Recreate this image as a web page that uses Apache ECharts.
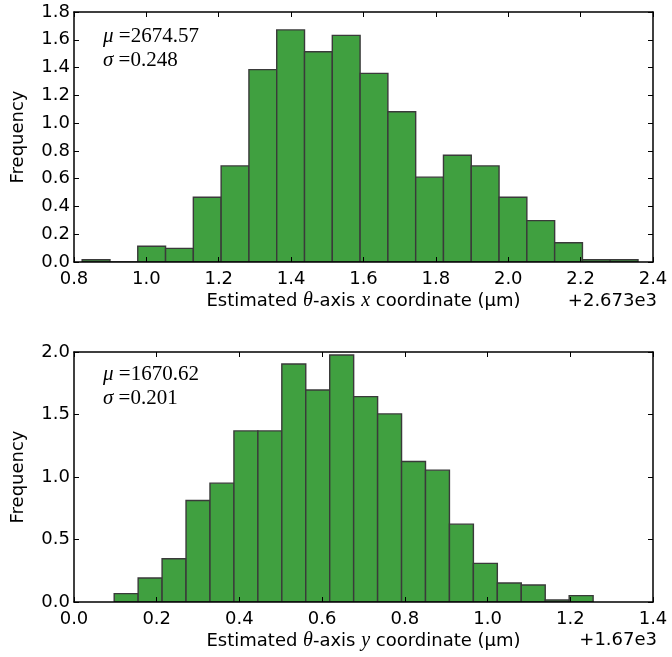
<!DOCTYPE html>
<html>
<head>
<meta charset="utf-8">
<script src="https://cdn.jsdelivr.net/npm/echarts@6/dist/echarts.min.js"></script>
<style>
html,body{margin:0;padding:0;background:#fff;}
#chart{width:672px;height:657px;}
</style>
</head>
<body>
<div id="chart"></div>
<script>
// ---- Data ----
// Top histogram: theta-axis x coordinate (offset +2673), 20 bins
const xBinStart = 0.8226;
const xBinWidth = 0.0768;
const xDensity = [0.016, 0.0, 0.113, 0.098, 0.466, 0.692, 1.385, 1.671, 1.514, 1.632,
                  1.358, 1.082, 0.611, 0.769, 0.692, 0.466, 0.298, 0.139, 0.016, 0.016];
const xTicks = [0.8, 1.0, 1.2, 1.4, 1.6, 1.8, 2.0, 2.2, 2.4];
const xFreqTicks = [0.0, 0.2, 0.4, 0.6, 0.8, 1.0, 1.2, 1.4, 1.6, 1.8];
const xStats = {mu: '2674.57', sigma: '0.248', offset: '+2.673e3'};

// Bottom histogram: theta-axis y coordinate (offset +1670), 20 bins
const yBinStart = 0.0972;
const yBinWidth = 0.0579;
const yDensity = [0.067, 0.192, 0.346, 0.812, 0.951, 1.369, 1.369, 1.904, 1.696, 1.976,
                  1.643, 1.505, 1.124, 1.055, 0.623, 0.309, 0.152, 0.136, 0.016, 0.051];
const yTicks = [0.0, 0.2, 0.4, 0.6, 0.8, 1.0, 1.2, 1.4];
const yFreqTicks = [0.0, 0.5, 1.0, 1.5, 2.0];
const yStats = {mu: '1670.62', sigma: '0.201', offset: '+1.67e3'};

// ---- Build ----
function bins(start, width, dens) {
  return dens.map((d, i) => [start + i * width, start + (i + 1) * width, d]);
}
const sans = 'DejaVu Sans';
const serif = 'Liberation Serif';
const FS = 18;

function renderBar(params, api) {
  const p0 = api.coord([api.value(0), api.value(2)]);
  const p1 = api.coord([api.value(1), 0]);
  return {
    type: 'rect',
    shape: {x: p0[0], y: p0[1], width: p1[0] - p0[0], height: p1[1] - p0[1]},
    style: {fill: '#40a040', stroke: '#3a3a3a', lineWidth: 1.4}
  };
}

function xAx(gi, ticks, nameVar, show) {
  const step = +(ticks[1] - ticks[0]).toFixed(6);
  return {
    type: 'value', gridIndex: gi, position: show ? 'bottom' : 'top',
    min: ticks[0], max: ticks[ticks.length - 1], interval: step,
    z: 10,
    splitLine: {show: false},
    axisLine: {show: true, onZero: false, lineStyle: {color: '#000', width: 1.5}},
    axisTick: {show: true, inside: true, length: 5, lineStyle: {color: '#000', width: 1}},
    axisLabel: {show: show, color: '#000', fontFamily: sans, fontSize: FS, margin: 8,
      formatter: v => v.toFixed(1)},
    name: show ? '{a|Estimated }{b|θ}{a|-axis }{b|' + nameVar + '}{a| coordinate (µm)}' : '',
    nameLocation: 'middle', nameGap: 29,
    nameTextStyle: {rich: {
      a: {fontFamily: sans, fontSize: FS, color: '#000'},
      b: {fontFamily: serif, fontStyle: 'italic', fontSize: 20, color: '#000'}
    }}
  };
}
function yAx(gi, ticks, show) {
  const step = +(ticks[1] - ticks[0]).toFixed(6);
  return {
    type: 'value', gridIndex: gi, position: show ? 'left' : 'right',
    min: ticks[0], max: ticks[ticks.length - 1], interval: step,
    z: 10,
    splitLine: {show: false},
    axisLine: {show: true, onZero: false, lineStyle: {color: '#000', width: 1.5}},
    axisTick: {show: true, inside: true, length: 5, lineStyle: {color: '#000', width: 1}},
    axisLabel: {show: show, color: '#000', fontFamily: sans, fontSize: FS, margin: 4,
      formatter: v => v.toFixed(1)},
    name: show ? 'Frequency' : '',
    nameLocation: 'middle', nameGap: 47, nameRotate: 90,
    nameTextStyle: {fontFamily: sans, fontSize: FS, color: '#000'}
  };
}
function statText(top, stats) {
  const rich = {
    g: {fontFamily: serif, fontStyle: 'italic', fontSize: 21, fill: '#000'},
    n: {fontFamily: serif, fontSize: 21, fill: '#000'}
  };
  return [
    {type: 'text', left: 103, top: top, z: 20,
      style: {text: '{g|μ}{n| =' + stats.mu + '}', rich: rich}},
    {type: 'text', left: 103, top: top + 24, z: 20,
      style: {text: '{g|σ}{n| =' + stats.sigma + '}', rich: rich}}
  ];
}

const chart = echarts.init(document.getElementById('chart'), null, {renderer: 'canvas'});
chart.setOption({
  backgroundColor: '#fff',
  animation: false,
  grid: [
    {left: 74, top: 12, width: 579, height: 250},
    {left: 74, top: 352, width: 579, height: 250}
  ],
  xAxis: [xAx(0, xTicks, 'x', true), xAx(0, xTicks, 'x', false),
          xAx(1, yTicks, 'y', true), xAx(1, yTicks, 'y', false)],
  yAxis: [yAx(0, xFreqTicks, true), yAx(0, xFreqTicks, false),
          yAx(1, yFreqTicks, true), yAx(1, yFreqTicks, false)],
  series: [
    {type: 'custom', xAxisIndex: 0, yAxisIndex: 0, renderItem: renderBar,
      encode: {x: [0, 1], y: 2}, data: bins(xBinStart, xBinWidth, xDensity), clip: true},
    {type: 'custom', xAxisIndex: 2, yAxisIndex: 2, renderItem: renderBar,
      encode: {x: [0, 1], y: 2}, data: bins(yBinStart, yBinWidth, yDensity), clip: true}
  ],
  graphic: [
    ...statText(26, xStats),
    ...statText(364, yStats),
    {type: 'text', right: 15, top: 292, z: 20,
      style: {text: xStats.offset, font: FS + 'px "DejaVu Sans"', fill: '#000'}},
    {type: 'text', right: 15, top: 631, z: 20,
      style: {text: yStats.offset, font: FS + 'px "DejaVu Sans"', fill: '#000'}}
  ]
});
</script>
</body>
</html>
